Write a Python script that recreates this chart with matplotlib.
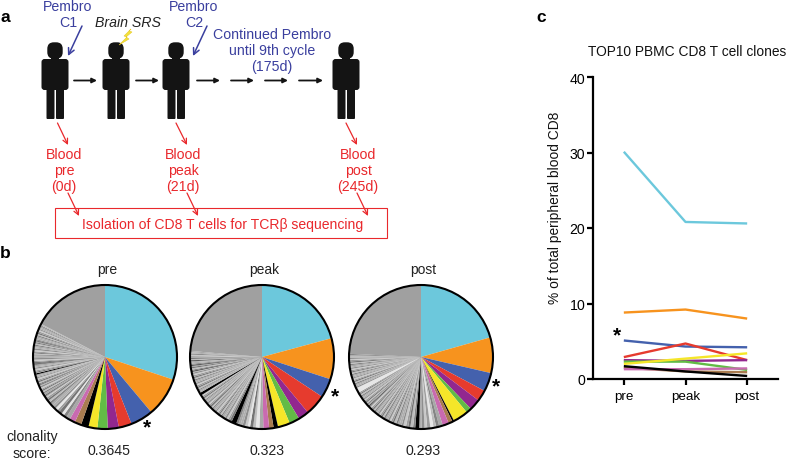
"""
Figura: esquema do tratamento, pizzas de clonalidade e top 10 clones CD8
"""

import matplotlib
matplotlib.use('Agg')
import matplotlib.pyplot as plt
from matplotlib.patches import Circle, FancyBboxPatch, Polygon, Rectangle

plt.rcParams['font.family'] = ['Liberation Sans', 'DejaVu Sans']

W, H = 787, 460

timepoints = ['pre', 'peak', 'post']
clone_names = ['cyan', 'orange', 'blue', 'red', 'purple', 'green', 'yellow', 'black', 'brown', 'pink']
clone_colors = ['#6cc8dc', '#f7931e', '#4461ad', '#e63b2e', '#92278f',
                '#62bb46', '#f5e629', '#000000', '#a97c50', '#c96ab0']

pre_vals = [30.1, 8.8, 5.1, 2.9, 2.5, 2.3, 2.0, 1.7, 1.5, 1.3]
peak_vals = [20.8, 9.2, 4.3, 4.7, 2.4, 2.3, 2.7, 1.0, 1.0, 1.3]
post_vals = [20.6, 8.0, 4.2, 2.5, 2.5, 1.2, 3.4, 0.4, 0.9, 1.4]

# clones menores (faixas cinza das pizzas), em %
pre_tail = [0.9, 0.7, 0.6, 0.7, 0.5, 0.6, 0.5, 0.5, 0.4, 0.5, 0.4, 0.4, 0.4, 0.3, 0.3, 0.1, 0.4,
            0.35, 0.3, 0.3, 0.25, 0.3, 0.35, 0.3, 0.1, 0.3, 0.25, 0.3, 0.3, 0.35, 0.25, 0.3, 0.3,
            0.3, 0.1, 0.25, 0.3, 0.35, 0.3, 0.25, 0.3, 0.3, 0.1, 0.3, 0.25, 0.3, 0.35, 0.3, 0.3,
            0.25, 0.3, 0.1, 0.3, 0.3, 0.35, 0.25, 0.3, 0.3, 0.3, 0.25, 0.3, 0.1, 0.3, 0.35, 0.3,
            0.3, 0.25, 0.3, 0.35, 0.3, 0.25, 0.3, 0.3, 0.25, 0.3]
peak_tail = [0.9, 0.8, 0.6, 0.7, 0.5, 0.6, 0.6, 0.5, 0.5, 0.5, 1.1, 0.5, 0.4, 0.4, 0.4, 0.3,
             0.4, 0.3, 0.35, 0.3, 0.3, 0.4, 0.3, 0.3, 0.35, 0.3, 0.3, 0.4, 0.3, 0.3, 0.35, 0.3,
             0.3, 0.25, 0.3, 0.3, 0.35, 0.3, 0.6, 0.3, 0.3, 0.25, 0.3, 0.3, 0.35, 0.3, 0.3, 0.3,
             0.25, 0.3, 0.3, 0.3, 0.35, 0.3, 0.3, 0.25, 0.15, 0.3, 0.3, 0.3, 0.3, 0.15, 0.3, 0.3,
             0.3, 0.15, 0.3, 0.3, 0.35, 0.3, 0.3, 0.25, 0.3]
post_tail = [0.8, 0.7, 0.6, 0.7, 0.7, 0.6, 0.7, 0.5, 0.9, 0.5, 0.6, 0.5, 0.5, 0.6, 0.4, 0.5,
             0.4, 0.4, 0.5, 0.35, 0.4, 0.35, 0.4, 0.35, 0.3, 0.4, 0.35, 0.3, 0.35, 0.3, 0.35,
             0.3, 0.3, 0.35, 0.3, 0.3, 0.35, 0.3, 0.3, 0.15, 0.3, 0.3, 0.25, 0.3, 0.3, 0.25, 0.3,
             0.3, 0.25, 0.3, 0.3, 0.25, 0.3, 1.1, 0.3, 0.3, 0.25, 0.3, 0.25, 0.3, 0.25, 0.3,
             0.25, 0.3, 0.25, 0.3, 0.3, 0.25, 0.3, 0.25, 0.3, 0.25, 0.3, 0.3, 0.25, 0.3, 0.3, 0.25,
             0.3, 0.3, 0.25, 0.3]

clonality = ['0.3645', '0.323', '0.293']
yticks_c = [0, 10, 20, 30, 40]

# tons das faixas
shades = ['#a8a8a8', '#858585', '#bdbdbd', '#747474', '#9c9c9c', '#c8c8c8', '#8e8e8e', '#aeaeae']
dark_slices = {'pre': [15, 24, 33, 42, 51, 61], 'peak': [10, 38, 56, 61, 65], 'post': [8, 39]}
light_slices = {'pre': [2, 5], 'peak': [1, 4], 'post': [3, 53]}

BLUE = '#3a3f9e'
RED = '#e9282c'
GREY_TEXT = '#222222'


def fx(px):
    return px / W


def fy(py):
    return 1 - py / H


def draw_person(ax, x):
    """Silhueta preta, x = centro em pixels"""
    black = '#141414'
    ax.add_patch(FancyBboxPatch((x - 5.5, 45.5), 11, 12, boxstyle='round,pad=2.2,rounding_size=6.5', fc=black, ec='none'))
    ax.add_patch(Rectangle((x - 4, 55), 8, 7, fc=black, ec='none'))
    ax.add_patch(FancyBboxPatch((x - 12, 61.5), 24, 28, boxstyle='round,pad=1.5,rounding_size=3', fc=black, ec='none'))
    ax.add_patch(FancyBboxPatch((x - 8, 84), 7, 35.5, boxstyle='round,pad=0.5,rounding_size=1', fc=black, ec='none'))
    ax.add_patch(FancyBboxPatch((x + 1.5, 84), 7, 35.5, boxstyle='round,pad=0.5,rounding_size=1', fc=black, ec='none'))


def draw_arrow(ax, start, end, color, lw=0.9, scale=9):
    ax.annotate('', xy=end, xytext=start,
                arrowprops=dict(arrowstyle='->', color=color, lw=lw, mutation_scale=scale,
                                shrinkA=0, shrinkB=0))


def draw_pie(fig, cx, cy, name, vals, tail):
    r = 72.0
    box = r * 1.04
    ax = fig.add_axes([fx(cx - box), fy(cy + box), 2 * box / W, 2 * box / H])
    rest = 100 - sum(vals) - sum(tail)
    colors = list(clone_colors)
    for i in range(len(tail)):
        if i in dark_slices[name]:
            colors.append('#000000')
        elif i in light_slices[name]:
            colors.append('#e6e6e6')
        else:
            colors.append(shades[i % len(shades)])
    colors.append('#a0a0a0')
    ax.pie(vals + tail + [rest], colors=colors, startangle=90, counterclock=False, radius=1,
           wedgeprops=dict(linewidth=0))
    ax.add_patch(Circle((0, 0), 1, fc='none', ec='black', lw=1.5))
    ax.set_xlim(-1.04, 1.04)
    ax.set_ylim(-1.04, 1.04)
    ax.set_aspect('equal')
    ax.axis('off')


fig = plt.figure(figsize=(W / 100, H / 100), dpi=100)

# camada em pixels para o esquema e os textos
bg = fig.add_axes([0, 0, 1, 1])
bg.set_xlim(0, W)
bg.set_ylim(H, 0)
bg.axis('off')

# ---- painel a ----
for x in [55, 116, 176, 346]:
    draw_person(bg, x)

for x0, x1 in [(74, 97), (136, 159), (197, 220), (231, 254), (265, 288), (299, 323)]:
    bg.annotate('', xy=(x1, 81.5), xytext=(x0, 81.5),
                arrowprops=dict(arrowstyle='-|>', color='#141414', lw=1.3, mutation_scale=7,
                                shrinkA=0, shrinkB=0))

bg.add_patch(Polygon([(131, 30), (124, 37), (127, 38), (119, 46), (129, 40), (126, 38), (132, 33), (129, 32)],
                     fc='#f4e23a', ec='#e5c92a', lw=0.4))

text_kw = dict(ha='center', va='center', fontsize=10.2, linespacing=1.22)
bg.text(68, 15, 'Pembro\nC1', color=BLUE, **text_kw)
bg.text(194, 15, 'Pembro\nC2', color=BLUE, **text_kw)
bg.text(128, 23, 'Brain SRS', color=GREY_TEXT, style='italic', ha='center', va='center', fontsize=10.2)
bg.text(272, 51, 'Continued Pembro\nuntil 9th cycle\n(175d)', color=BLUE, **text_kw)
bg.text(64, 171, 'Blood\npre\n(0d)', color=RED, **text_kw)
bg.text(183, 171, 'Blood\npeak\n(21d)', color=RED, **text_kw)
bg.text(358, 171, 'Blood\npost\n(245d)', color=RED, **text_kw)

draw_arrow(bg, (82, 27), (68, 57), BLUE, lw=1.1, scale=11)
draw_arrow(bg, (207, 27), (193, 57), BLUE, lw=1.1, scale=11)
for start, end in [((57.5, 124), (68, 146)), ((176, 124), (187, 146)), ((346, 124), (357, 146)),
                   ((68, 194), (79, 217)), ((187, 194), (198, 217)), ((357, 194), (368, 217))]:
    draw_arrow(bg, start, end, RED)

bg.add_patch(Rectangle((55, 209), 332, 29.5, fc='none', ec=RED, lw=0.8))
bg.text(223, 225, 'Isolation of CD8 T cells for TCR\u03b2 sequencing', color=RED, ha='center', va='center',
        fontsize=10.1)

# ---- painel b ----
pie_x = [105, 262, 421]
score_x = [109, 267, 423]
draw_pie(fig, pie_x[0], 358, 'pre', pre_vals, pre_tail)
draw_pie(fig, pie_x[1], 358, 'peak', peak_vals, peak_tail)
draw_pie(fig, pie_x[2], 358, 'post', post_vals, post_tail)

for x, sx, tp, score in zip(pie_x, score_x, timepoints, clonality):
    bg.text(x + 2, 270, tp, color=GREY_TEXT, ha='center', va='center', fontsize=10)
    bg.text(sx, 451, score, color=GREY_TEXT, ha='center', va='center', fontsize=10.2)
bg.text(32, 445.5, 'clonality\nscore:', color=GREY_TEXT, ha='center', va='center', fontsize=10.2, linespacing=1.25)

for x, y in [(147, 428), (335, 397), (496, 387)]:
    bg.text(x, y, '*', color='black', fontweight='bold', ha='center', va='center', fontsize=15)

# letras dos paineis
for x, y, letter in [(5, 17, 'a'), (5, 253, 'b'), (541, 17, 'c')]:
    bg.text(x, y, letter, color='black', fontweight='bold', ha='center', va='center', fontsize=12.5)

# ---- painel c ----
ax = fig.add_axes([fx(593), fy(380), (778 - 593) / W, (380 - 78) / H])
for i, name in enumerate(clone_names):
    series = [pre_vals[i], peak_vals[i], post_vals[i]]
    ax.plot(range(len(timepoints)), series, color=clone_colors[i], lw=1.7, solid_capstyle='butt',
            zorder=3 + (2 if name == 'black' else 0), clip_on=False)

ax.set_xlim(-0.5, 2.5)
ax.set_ylim(0, 40)
ax.set_xticks(range(len(timepoints)))
ax.set_xticklabels(timepoints, fontsize=9.6)
ax.set_yticks(yticks_c)
ax.tick_params(axis='y', labelsize=10.2, width=1.6, length=4.5, pad=1)
ax.tick_params(axis='x', width=1.6, length=4.5, pad=3.5)
ax.spines['top'].set_visible(False)
ax.spines['right'].set_visible(False)
ax.spines['left'].set_linewidth(1.6)
ax.spines['bottom'].set_linewidth(1.6)
ax.patch.set_alpha(0)
ax.text(-0.11, 5.9, '*', color='black', fontweight='bold', ha='center', va='center', fontsize=15)

bg.text(687, 52, 'TOP10 PBMC CD8 T cell clones', color='#111111', ha='center', va='center', fontsize=9.95)
bg.text(555, 208, '% of total peripheral blood CD8', color='#111111', rotation=90, ha='center', va='center',
        fontsize=9.9)

fig.savefig('out.png', dpi=100)
plt.close(fig)
